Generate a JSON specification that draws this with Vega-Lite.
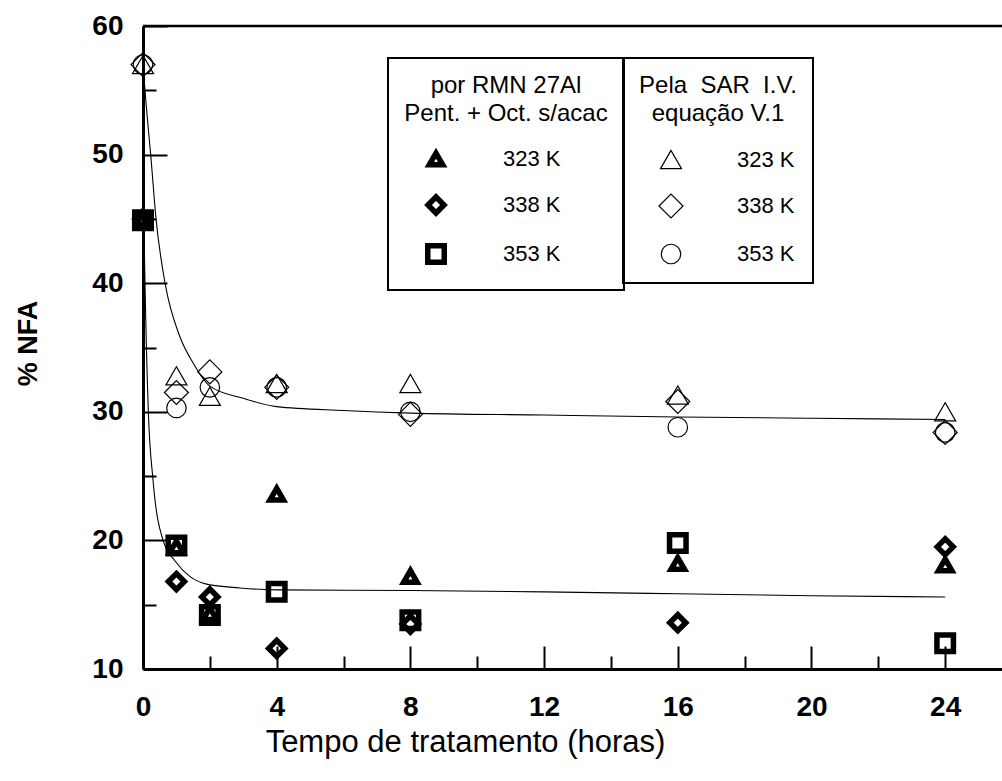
{
  "$schema": "https://vega.github.io/schema/vega-lite/v6.json",
  "width": 859,
  "height": 643,
  "autosize": {"type": "none"},
  "padding": {"left": 143, "top": 26, "right": 0, "bottom": 112},
  "background": "white",
  "config": {
    "view": {"stroke": null},
    "font": "Liberation Sans",
    "axis": {
      "grid": false,
      "domainColor": "black",
      "domainWidth": 3,
      "tickColor": "black",
      "tickWidth": 2,
      "labelFont": "Liberation Sans",
      "labelFontSize": 28,
      "labelFontWeight": "bold",
      "labelColor": "black",
      "labelFlush": false,
      "labelOverlap": false,
      "titleFont": "Liberation Sans",
      "titleColor": "black"
    },
    "legend": {
      "titleFont": "Liberation Sans",
      "titleFontSize": 24,
      "titleFontWeight": "normal",
      "titleColor": "black",
      "titleAnchor": "middle",
      "titleLineHeight": 28,
      "titlePadding": 22,
      "titleLimit": 500,
      "labelFont": "Liberation Sans",
      "labelFontSize": 22,
      "labelColor": "black",
      "labelLimit": 300,
      "strokeColor": "black",
      "strokeWidth": 2,
      "padding": 16,
      "rowPadding": 20,
      "symbolStrokeColor": "black"
    }
  },
  "datasets": {
    "medidas": [
      {"metodo": "SAR", "temp": "323 K", "t": 0, "nfa": 57.0},
      {"metodo": "SAR", "temp": "323 K", "t": 1, "nfa": 32.8},
      {"metodo": "SAR", "temp": "323 K", "t": 2, "nfa": 31.2},
      {"metodo": "SAR", "temp": "323 K", "t": 4, "nfa": 32.2},
      {"metodo": "SAR", "temp": "323 K", "t": 8, "nfa": 32.2},
      {"metodo": "SAR", "temp": "323 K", "t": 16, "nfa": 31.3},
      {"metodo": "SAR", "temp": "323 K", "t": 24, "nfa": 30.0},
      {"metodo": "SAR", "temp": "338 K", "t": 0, "nfa": 57.0},
      {"metodo": "SAR", "temp": "338 K", "t": 1, "nfa": 31.5},
      {"metodo": "SAR", "temp": "338 K", "t": 2, "nfa": 33.1},
      {"metodo": "SAR", "temp": "338 K", "t": 4, "nfa": 31.9},
      {"metodo": "SAR", "temp": "338 K", "t": 8, "nfa": 29.8},
      {"metodo": "SAR", "temp": "338 K", "t": 16, "nfa": 30.8},
      {"metodo": "SAR", "temp": "338 K", "t": 24, "nfa": 28.4},
      {"metodo": "SAR", "temp": "353 K", "t": 0, "nfa": 57.0},
      {"metodo": "SAR", "temp": "353 K", "t": 1, "nfa": 30.3},
      {"metodo": "SAR", "temp": "353 K", "t": 2, "nfa": 31.9},
      {"metodo": "SAR", "temp": "353 K", "t": 4, "nfa": 31.9},
      {"metodo": "SAR", "temp": "353 K", "t": 8, "nfa": 30.0},
      {"metodo": "SAR", "temp": "353 K", "t": 16, "nfa": 28.8},
      {"metodo": "SAR", "temp": "353 K", "t": 24, "nfa": 28.4},
      {"metodo": "RMN", "temp": "338 K", "t": 0, "nfa": 45.0},
      {"metodo": "RMN", "temp": "338 K", "t": 1, "nfa": 16.8},
      {"metodo": "RMN", "temp": "338 K", "t": 2, "nfa": 15.6},
      {"metodo": "RMN", "temp": "338 K", "t": 4, "nfa": 11.6},
      {"metodo": "RMN", "temp": "338 K", "t": 8, "nfa": 13.5},
      {"metodo": "RMN", "temp": "338 K", "t": 16, "nfa": 13.6},
      {"metodo": "RMN", "temp": "338 K", "t": 24, "nfa": 19.5},
      {"metodo": "RMN", "temp": "353 K", "t": 0, "nfa": 44.9},
      {"metodo": "RMN", "temp": "353 K", "t": 1, "nfa": 19.6},
      {"metodo": "RMN", "temp": "353 K", "t": 2, "nfa": 14.2},
      {"metodo": "RMN", "temp": "353 K", "t": 4, "nfa": 16.0},
      {"metodo": "RMN", "temp": "353 K", "t": 8, "nfa": 13.8},
      {"metodo": "RMN", "temp": "353 K", "t": 16, "nfa": 19.8},
      {"metodo": "RMN", "temp": "353 K", "t": 24, "nfa": 12.0},
      {"metodo": "RMN", "temp": "323 K", "t": 0, "nfa": 45.0},
      {"metodo": "RMN", "temp": "323 K", "t": 1, "nfa": 19.5},
      {"metodo": "RMN", "temp": "323 K", "t": 2, "nfa": 14.3},
      {"metodo": "RMN", "temp": "323 K", "t": 4, "nfa": 23.6},
      {"metodo": "RMN", "temp": "323 K", "t": 8, "nfa": 17.2},
      {"metodo": "RMN", "temp": "323 K", "t": 16, "nfa": 18.2},
      {"metodo": "RMN", "temp": "323 K", "t": 24, "nfa": 18.1}
    ],
    "ajustes": [
      {"curva": "SAR", "t": 0, "nfa": 57.0},
      {"curva": "SAR", "t": 0.09, "nfa": 54.0},
      {"curva": "SAR", "t": 0.23, "nfa": 50.0},
      {"curva": "SAR", "t": 0.39, "nfa": 45.0},
      {"curva": "SAR", "t": 0.66, "nfa": 40.0},
      {"curva": "SAR", "t": 1.11, "nfa": 35.8},
      {"curva": "SAR", "t": 1.5, "nfa": 33.8},
      {"curva": "SAR", "t": 2, "nfa": 32.0},
      {"curva": "SAR", "t": 3, "nfa": 31.05},
      {"curva": "SAR", "t": 4, "nfa": 30.4},
      {"curva": "SAR", "t": 6, "nfa": 30.1},
      {"curva": "SAR", "t": 8, "nfa": 29.9},
      {"curva": "SAR", "t": 12, "nfa": 29.75},
      {"curva": "SAR", "t": 16, "nfa": 29.6},
      {"curva": "SAR", "t": 20, "nfa": 29.5},
      {"curva": "SAR", "t": 24, "nfa": 29.4},
      {"curva": "RMN", "t": 0, "nfa": 57.0},
      {"curva": "RMN", "t": 0.02, "nfa": 50.0},
      {"curva": "RMN", "t": 0.04, "nfa": 43.0},
      {"curva": "RMN", "t": 0.06, "nfa": 40.0},
      {"curva": "RMN", "t": 0.16, "nfa": 30.0},
      {"curva": "RMN", "t": 0.3, "nfa": 24.7},
      {"curva": "RMN", "t": 0.6, "nfa": 20.0},
      {"curva": "RMN", "t": 0.96, "nfa": 18.4},
      {"curva": "RMN", "t": 1.4, "nfa": 17.2},
      {"curva": "RMN", "t": 1.9, "nfa": 16.6},
      {"curva": "RMN", "t": 2.9, "nfa": 16.3},
      {"curva": "RMN", "t": 4, "nfa": 16.15},
      {"curva": "RMN", "t": 8, "nfa": 16.1},
      {"curva": "RMN", "t": 12, "nfa": 16.0},
      {"curva": "RMN", "t": 16, "nfa": 15.85},
      {"curva": "RMN", "t": 20, "nfa": 15.7},
      {"curva": "RMN", "t": 24, "nfa": 15.6}
    ]
  },
  "layer": [
    {
      "data": {"name": "ajustes"},
      "mark": {"type": "line", "color": "black", "strokeWidth": 1.1, "interpolate": "monotone"},
      "encoding": {
        "x": {
          "field": "t",
          "type": "quantitative",
          "scale": {"domain": [0, 25.7], "nice": false, "zero": false},
          "axis": {
            "values": [0, 2, 4, 6, 8, 10, 12, 14, 16, 18, 20, 22, 24],
            "labelExpr": "datum.value % 4 === 0 ? datum.label : ''",
            "tickSize": {"condition": {"test": "datum.value % 4 === 0", "value": -23}, "value": -13},
            "labelPadding": 47,
            "title": "Tempo de tratamento (horas)",
            "titleFontSize": 31,
            "titleFontWeight": "normal",
            "titleX": 322,
            "titleY": 73,
            "titleAlign": "center",
            "titleBaseline": "middle"
          }
        },
        "y": {
          "field": "nfa",
          "type": "quantitative",
          "scale": {"domain": [10, 60], "nice": false, "zero": false},
          "axis": {
            "values": [10, 15, 20, 25, 30, 35, 40, 45, 50, 55, 60],
            "labelExpr": "datum.value % 10 === 0 ? datum.label : ''",
            "tickSize": {"condition": {"test": "datum.value % 10 === 0", "value": -24}, "value": -13},
            "labelPadding": 44,
            "title": "% NFA",
            "titleFontSize": 27,
            "titleFontWeight": "bold",
            "titleX": -115,
            "titleY": 317,
            "titleAlign": "center",
            "titleBaseline": "middle"
          }
        },
        "detail": {"field": "curva"},
        "order": {"field": "t", "type": "quantitative"}
      }
    },
    {
      "data": {"name": "medidas"},
      "transform": [{"filter": "datum.metodo === 'SAR'"}],
      "mark": {"type": "point", "filled": false, "stroke": "black", "strokeWidth": 1.2, "opacity": 1},
      "encoding": {
        "x": {"field": "t", "type": "quantitative"},
        "y": {"field": "nfa", "type": "quantitative"},
        "shape": {
          "field": "temp",
          "type": "nominal",
          "scale": {"domain": ["323 K", "338 K", "353 K"], "range": ["triangle-up", "diamond", "circle"]},
          "legend": {
            "orient": "none",
            "legendX": 480,
            "legendY": 32,
            "title": ["Pela\u00a0 SAR\u00a0 I.V.", "equação V.1"],
            "symbolOffset": 16,
            "labelOffset": 53,
            "symbolStrokeWidth": 1.2,
            "symbolFillColor": "transparent"
          }
        },
        "size": {
          "field": "temp",
          "type": "nominal",
          "scale": {"type": "ordinal", "domain": ["323 K", "338 K", "353 K"], "range": [441, 576, 380]}
        }
      }
    },
    {
      "data": {"name": "medidas"},
      "transform": [{"filter": "datum.metodo === 'RMN'"}],
      "mark": {"type": "point", "filled": false, "stroke": "black", "strokeWidth": 5.5, "opacity": 1, "strokeJoin": "miter"},
      "encoding": {
        "x": {"field": "t", "type": "quantitative"},
        "y": {"field": "nfa", "type": "quantitative"},
        "shape": {
          "field": "temp",
          "type": "nominal",
          "scale": {"domain": ["323 K", "338 K", "353 K"], "range": ["triangle-up", "diamond", "square"]},
          "legend": {
            "orient": "none",
            "legendX": 245,
            "legendY": 32,
            "title": ["por RMN 27Al", "Pent. + Oct. s/acac"],
            "rowPadding": 10,
            "symbolOffset": -27,
            "labelOffset": 56,
            "symbolStrokeWidth": 5.5,
            "symbolFillColor": "transparent"
          }
        },
        "size": {
          "field": "temp",
          "type": "nominal",
          "scale": {"type": "ordinal", "domain": ["323 K", "338 K", "353 K"], "range": [180, 256, 272]}
        }
      }
    },
    {
      "data": {"values": [{}]},
      "mark": {"type": "rule", "color": "black", "strokeWidth": 2.5},
      "encoding": {"y": {"datum": 60}}
    }
  ],
  "resolve": {"scale": {"shape": "independent", "size": "independent"}}
}
